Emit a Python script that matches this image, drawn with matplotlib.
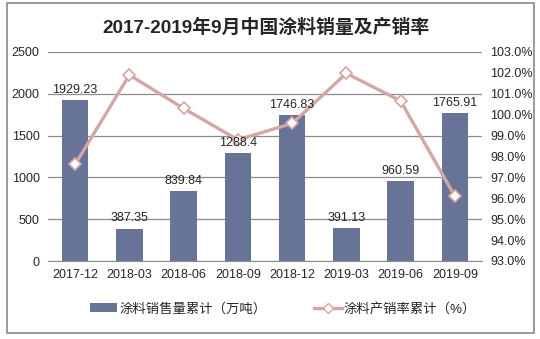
import matplotlib.pyplot as plt
from matplotlib.lines import Line2D
from matplotlib.patches import Patch, Rectangle
from matplotlib.ticker import FuncFormatter, MultipleLocator

plt.rcParams['font.family'] = ['Liberation Sans', 'Noto Sans CJK SC']

periods = ['2017-12', '2018-03', '2018-06', '2018-09',
           '2018-12', '2019-03', '2019-06', '2019-09']
sales = [1929.23, 387.35, 839.84, 1288.4, 1746.83, 391.13, 960.59, 1765.91]
ratio = [97.62, 101.9, 100.3, 98.8, 99.58, 101.98, 100.66, 96.1]

bar_color = '#677497'
line_color = '#d5a6a4'
grid_color = '#8c8c8c'
text_color = '#262626'

W, H = 540, 339
fig = plt.figure(figsize=(W / 100, H / 100), dpi=100)

# outer frame around the whole chart
fig.patches.append(Rectangle((7 / W, 6 / H), 527 / W, 330 / H, transform=fig.transFigure,
                             fill=False, edgecolor='#8a8a8a', linewidth=1.2))

ax = fig.add_axes([48 / W, 78 / H, 434 / W, 209 / H])
x = list(range(len(periods)))
ax.bar(x, sales, width=0.49, color=bar_color, zorder=2)

ax.set_xlim(-0.5, len(periods) - 0.5)
ax.set_ylim(0, 2500)
ax.yaxis.set_major_locator(MultipleLocator(500))
ax.grid(axis='y', color=grid_color, linewidth=0.9, zorder=0)
ax.set_xticks(x)
ax.set_xticklabels(periods)
for s in ['top', 'right', 'left']:
    ax.spines[s].set_visible(False)
ax.spines['bottom'].set_color(grid_color)
ax.tick_params(axis='both', length=0, labelsize=9, labelcolor=text_color)
ax.tick_params(axis='x', pad=6)
ax.tick_params(axis='y', pad=6)

ax2 = ax.twinx()
ax2.plot(x, ratio, color=line_color, linewidth=2.4, marker='D', markersize=6,
         markerfacecolor='white', markeredgecolor=line_color, markeredgewidth=1.2, zorder=4)
ax2.set_ylim(93, 103)
ax2.yaxis.set_major_locator(MultipleLocator(1))
ax2.yaxis.set_major_formatter(FuncFormatter(lambda v, p: f'{v:.1f}%'))
for s in ax2.spines.values():
    s.set_visible(False)
ax2.tick_params(axis='y', length=0, labelsize=9, labelcolor=text_color, pad=6)

# bar value labels sit on top of the ratio line
for xi, v in zip(x, sales):
    ax2.annotate(f'{v:g}', (xi, v), xycoords=ax.transData, xytext=(0, 3),
                 textcoords='offset points', ha='center', va='bottom',
                 fontsize=9, color=text_color, zorder=6)

fig.text(266 / W, (H - 28) / H, '2017-2019年9月中国涂料销量及产销率', ha='center', va='center',
         fontsize=13.6, fontweight='bold', color=text_color)

handles = [Patch(facecolor=bar_color),
           Line2D([], [], color=line_color, linewidth=2.4, marker='D', markersize=5,
                  markerfacecolor='white', markeredgecolor=line_color)]
fig.legend(handles, ['涂料销售量累计（万吨）', '涂料产销率累计（%）'], loc='center',
           bbox_to_anchor=(283 / W, 30 / H), ncol=2, frameon=False, fontsize=9.6,
           handlelength=2.05, handletextpad=0.15, columnspacing=3.6, labelcolor=text_color)

fig.savefig('out.png', dpi=100)
